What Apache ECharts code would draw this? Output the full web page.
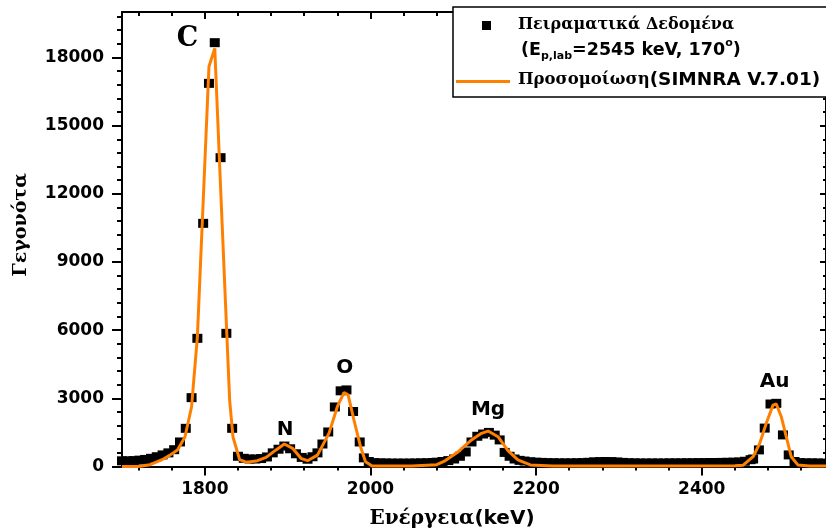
<!DOCTYPE html>
<html>
<head>
<meta charset="utf-8">
<script src="https://cdn.jsdelivr.net/npm/echarts@6/dist/echarts.min.js"></script>
<style>html,body{margin:0;padding:0;background:#fff}#c{width:826px;height:531px}</style>
</head>
<body>
<div id="c"></div>
<script>
// Experimental data (squares)
const expEnergy = [1700,1707,1714,1721,1728,1735,1742,1749,1756,1763,1770,1777,1784,1791,1798,1805,1812,1819,1826,1833,1840,1847,1854,1861,1868,1875,1882,1889,1896,1903,1910,1917,1924,1930,1936,1942,1949,1957,1964,1971,1979,1987,1992,1998,2005,2012,2019,2026,2033,2040,2047,2054,2061,2068,2075,2080,2087,2094,2101,2108,2115,2122,2129,2136,2143,2150,2156,2162,2168,2174,2180,2186,2193,2200,2207,2214,2221,2228,2235,2242,2249,2256,2263,2270,2277,2284,2291,2298,2305,2312,2319,2326,2333,2340,2347,2354,2361,2368,2375,2382,2389,2396,2403,2410,2417,2424,2431,2438,2445,2452,2459,2462,2469,2476,2483,2490,2498,2505,2512,2519,2526,2533,2540,2547];
const expCounts = [250,250,260,280,310,360,430,510,600,740,1080,1680,3030,5640,10700,16860,18650,13590,5860,1680,450,360,330,330,350,420,600,760,900,780,560,400,320,430,600,990,1520,2620,3330,3370,2420,1080,380,220,170,160,155,150,150,150,150,155,160,165,175,190,220,260,330,450,640,1080,1330,1430,1500,1380,1170,620,450,330,270,240,210,190,180,170,165,160,160,160,165,170,185,205,215,220,215,200,180,165,160,155,155,155,155,155,160,160,160,165,165,170,170,175,175,180,185,190,200,230,300,330,730,1690,2750,2780,1390,510,220,170,160,160,155,150];

// Simulation (SIMNRA) curve
const simEnergy = [1700,1720,1734,1742,1750,1758,1767,1776,1784,1791,1798,1805,1812,1819,1826,1830,1834,1842,1850,1862,1874,1886,1896,1906,1916,1924,1936,1950,1960,1968,1973,1980,1988,1994,2002,2050,2080,2090,2106,2122,2134,2142,2154,2166,2178,2193,2220,2300,2440,2450,2462,2470,2478,2486,2490,2496,2502,2508,2516,2530,2550];
const simCounts = [0,0,80,200,330,500,730,1300,2630,5700,11650,17600,18400,12300,6300,2900,1300,300,190,240,400,730,990,800,360,255,500,1470,2630,3250,3150,2050,870,210,20,20,80,250,650,1170,1460,1560,1310,700,290,70,20,20,30,60,430,1020,1910,2700,2750,2190,1310,430,70,20,20];

// Peak labels
const peakNames = ['C','N','O','Mg','Au'];
const peakEnergy = [1779,1897,1969,2142,2488];
const peakCounts = [18800,1600,4330,2490,3720];

// Axis ticks
const xMajor = [1800,2000,2200,2400];
const xMinor = [1720,1760,1840,1880,1920,1960,2040,2080,2120,2160,2240,2280,2320,2360,2440,2480,2520];
const yMajor = [0,3000,6000,9000,12000,15000,18000];
const yMinor = [];
for (let v = 600; v < 20000; v += 600) { if (v % 3000 !== 0) yMinor.push(v); }

const XMIN = 1700, XMAX = 2550, YMIN = 0, YMAX = 20000;
const sans = 'DejaVu Sans';
const serif = 'DejaVu Serif';

const chart = echarts.init(document.getElementById('c'), null, {renderer: 'canvas'});

function xAx(pos, ticks, len, inside, showLine, showLabel) {
  return {
    type: 'value', min: XMIN, max: XMAX, position: pos, gridIndex: 0,
    axisLine: {show: showLine, onZero: false, lineStyle: {color: '#000', width: 2}},
    axisTick: {show: true, customValues: ticks, inside: inside, length: len, lineStyle: {color: '#000', width: 2}},
    axisLabel: showLabel ? {show: true, customValues: ticks, margin: 15, color: '#000', fontFamily: sans, fontWeight: 'bold', fontSize: 17, formatter: v => String(v)} : {show: false},
    splitLine: {show: false}
  };
}
function yAx(pos, ticks, len, inside, showLine, showLabel) {
  return {
    type: 'value', min: YMIN, max: YMAX, position: pos, gridIndex: 0,
    axisLine: {show: showLine, onZero: false, lineStyle: {color: '#000', width: 2}},
    axisTick: {show: true, customValues: ticks, inside: inside, length: len, lineStyle: {color: '#000', width: 2}},
    axisLabel: showLabel ? {show: true, customValues: ticks, margin: 18, color: '#000', fontFamily: sans, fontWeight: 'bold', fontSize: 17, formatter: v => String(v)} : {show: false},
    splitLine: {show: false}
  };
}

const expData = expEnergy.map((e, i) => [e, expCounts[i]]);
const simData = simEnergy.map((e, i) => [e, simCounts[i]]);
const peakData = peakNames.map((n, i) => ({
  value: [peakEnergy[i], peakCounts[i]], name: n,
  label: n === 'C'
    ? {fontFamily: serif, fontSize: 27}
    : {fontFamily: sans, fontSize: 20}
}));

const option = {
  animation: false,
  backgroundColor: '#fff',
  grid: {left: 122, right: -4, top: 12, bottom: 64.5, containLabel: false},
  xAxis: [
    xAx('bottom', xMajor, 9, false, true, true),
    xAx('bottom', xMinor, 4, false, false, false),
    xAx('top', xMajor, 7, true, true, false),
    xAx('top', xMinor, 4, true, false, false)
  ],
  yAxis: [
    yAx('left', yMajor, 10, false, true, true),
    yAx('left', yMinor, 5, false, false, false),
    yAx('right', yMajor, 6, true, true, false),
    yAx('right', yMinor, 3, true, false, false)
  ],
  series: [
    {
      name: 'Πειραματικά Δεδομένα', type: 'scatter', data: expData,
      symbol: 'rect', symbolSize: [10, 9], itemStyle: {color: '#000', opacity: 1}, z: 2
    },
    {
      name: 'Προσομοίωση(SIMNRA V.7.01)', type: 'line', data: simData,
      showSymbol: false, smooth: false, lineStyle: {color: '#FF8000', width: 3}, z: 3
    },
    {
      name: 'labels', type: 'scatter', data: peakData, symbol: 'circle', symbolSize: 1, silent: true,
      itemStyle: {color: 'rgba(255,255,255,0)', opacity: 1}, z: 4,
      label: {show: true, position: 'inside', formatter: p => p.name, color: '#000', opacity: 1,
        fontWeight: 'bold', textBorderWidth: 0}
    }
  ],
  graphic: [
    {type: 'text', x: 21, y: 225, rotation: Math.PI / 2, z: 10,
      style: {text: 'Γεγονότα', fontFamily: serif, fontWeight: 'bold', fontSize: 19, fill: '#000', align: 'center', verticalAlign: 'middle'}},
    {type: 'text', x: 452, y: 519, z: 10,
      style: {text: '{g|Ενέργεια}{s|(keV)}', align: 'center', verticalAlign: 'middle', fill: '#000',
        rich: {g: {fontFamily: serif, fontWeight: 'bold', fontSize: 20}, s: {fontFamily: sans, fontWeight: 'bold', fontSize: 20}}}},
    {type: 'rect', z: 20, shape: {x: 453, y: 7, width: 380, height: 90}, style: {fill: '#fff', stroke: '#000', lineWidth: 1.5}},
    {type: 'rect', z: 21, shape: {x: 482, y: 21, width: 9, height: 9}, style: {fill: '#000'}},
    {type: 'text', x: 518, y: 25, z: 21,
      style: {text: 'Πειραματικά Δεδομένα', fontFamily: serif, fontWeight: 'bold', fontSize: 16, fill: '#000', verticalAlign: 'middle'}},
    {type: 'text', x: 521, y: 50, z: 21,
      style: {text: '{s|(E}{sub|p,lab}{s|=2545 keV, 170}{sup|o}{s|)}', verticalAlign: 'middle', fill: '#000',
        rich: {
          s: {fontFamily: sans, fontWeight: 'bold', fontSize: 17.5, lineHeight: 24, verticalAlign: 'middle'},
          sub: {fontFamily: sans, fontWeight: 'bold', fontSize: 11, lineHeight: 24, verticalAlign: 'bottom'},
          sup: {fontFamily: sans, fontWeight: 'bold', fontSize: 11, lineHeight: 24, verticalAlign: 'top'}
        }}},
    {type: 'line', z: 21, shape: {x1: 456, y1: 81.5, x2: 510, y2: 81.5}, style: {stroke: '#FF8000', lineWidth: 3}},
    {type: 'text', x: 518, y: 80, z: 21,
      style: {text: '{g|Προσομοίωση}{s|(SIMNRA V.7.01)}', verticalAlign: 'middle', fill: '#000',
        rich: {g: {fontFamily: serif, fontWeight: 'bold', fontSize: 16.5}, s: {fontFamily: sans, fontWeight: 'bold', fontSize: 18.5}}}}
  ]
};
chart.setOption(option);
</script>
</body>
</html>
